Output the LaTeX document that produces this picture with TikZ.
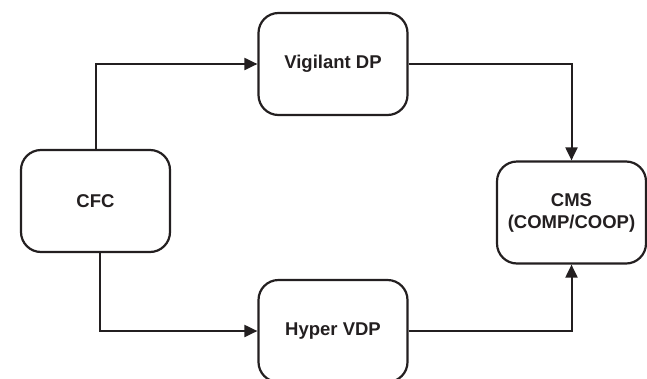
\documentclass[tikz,border=0pt]{standalone}
\usepackage{fontspec}
\setmainfont{Liberation Sans}
\usetikzlibrary{arrows.meta,calc}
\definecolor{ink}{HTML}{231F20}
\begin{document}
\begin{tikzpicture}[x=1pt,y=-1pt,
  box/.style={draw=ink, line width=2.2pt, rounded corners=20pt, minimum width=149pt, minimum height=102pt,
    inner sep=0pt, align=center, text=ink, font=\fontsize{18.5pt}{22pt}\selectfont\bfseries},
  conn/.style={draw=ink, line width=2pt, -{Triangle[length=13pt,width=12pt]}}]
\useasboundingbox (0,0) rectangle (647,378);
\node[box] (cfc) at (95.5,201) {CFC};
\node[box] (vig) at (333,64) {Vigilant DP};
\node[box] (hyp) at (333,331) {Hyper VDP};
\node[box] (cms) at (571.5,212.5) {CMS\\(COMP/COOP)};
\draw[conn] ($(cfc.north)+(0,0)$) |- (vig.west);
\draw[conn] ($(cfc.south)+(4,0)$) |- (hyp.west);
\draw[conn] (vig.east) -| (cms.north);
\draw[conn] (hyp.east) -| (cms.south);
\end{tikzpicture}
\end{document}
